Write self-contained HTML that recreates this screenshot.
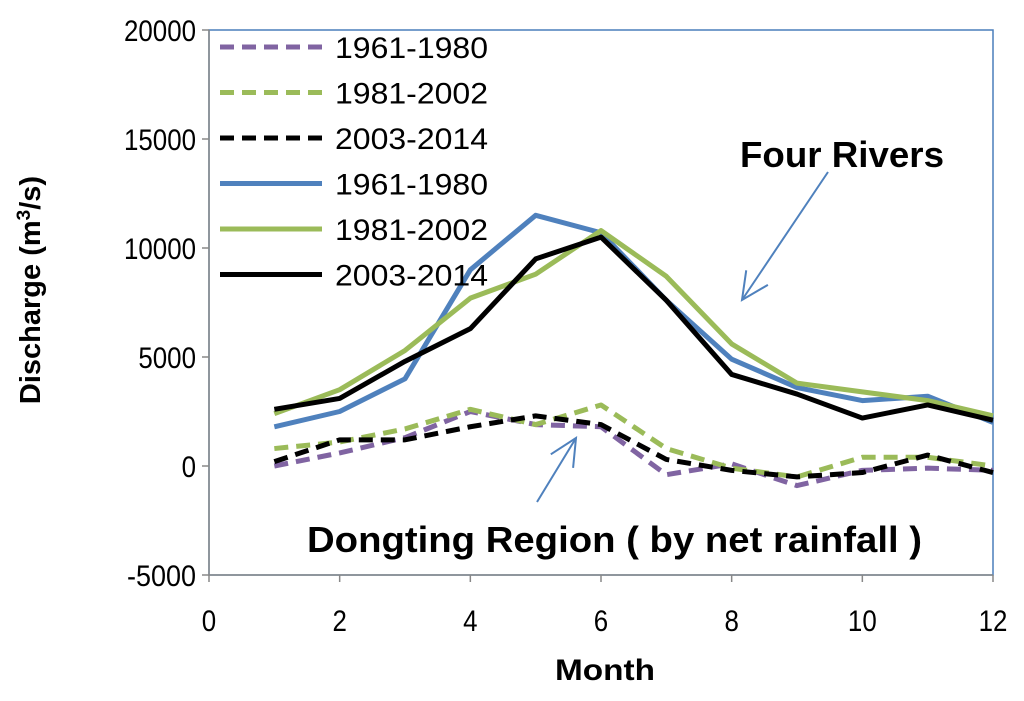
<!DOCTYPE html>
<html><head><meta charset="utf-8"><style>
body{margin:0;background:#fff;}
svg{font-family:"Liberation Sans",sans-serif;}
</style></head><body>
<svg id="c" width="1024" height="696" viewBox="0 0 1024 696"></svg>
<script>
const months=[1,2,3,4,5,6,7,8,9,10,11,12];
const xTicks=[0,2,4,6,8,10,12];
const yTicks=[-5000,0,5000,10000,15000,20000];
const dPurple=[0,600,1300,2500,1900,1800,-400,100,-900,-200,-100,-200];
const dGreen=[800,1100,1700,2600,1900,2800,800,-100,-500,400,400,0];
const dBlack=[200,1200,1200,1800,2300,1900,300,-200,-500,-300,500,-300];
const sBlue=[1800,2500,4000,9000,11500,10700,7600,4900,3600,3000,3200,2000];
const sGreen=[2400,3500,5300,7700,8800,10800,8700,5600,3800,3400,3000,2300];
const sBlack=[2600,3100,4800,6300,9500,10500,7600,4200,3300,2200,2800,2100];
const seriesNames=["1961-1980","1981-2002","2003-2014","1961-1980","1981-2002","2003-2014"];

const NS="http://www.w3.org/2000/svg";
const svg=document.getElementById('c');
const X0=209,X1=993,Y0=575,Y1=30;
const sx=v=>X0+(v-0)/12*(X1-X0);
const sy=v=>Y0-(v+5000)/25000*(Y0-Y1);
function el(t,a,p){const e=document.createElementNS(NS,t);for(const k in a)e.setAttribute(k,a[k]);(p||svg).appendChild(e);return e;}

const frame=el('rect',{x:X0,y:Y1,width:X1-X0,height:Y0-Y1,fill:'none',stroke:'#4a7ebb','stroke-width':1.5});


const ax=el('path',{d:`M${X0},${Y1}V${Y0}H${X1}`,fill:'none',stroke:'#888','stroke-width':1.5});



yTicks.forEach(v=>{
  el('line',{x1:X0-7,x2:X0,y1:sy(v),y2:sy(v),stroke:'#888','stroke-width':1.5});
  const s=String(v);
  const t=el('text',{x:196,y:sy(v)+11,'text-anchor':'end','font-size':30,fill:'#000',textLength:s.length*14.4+(v<0?-3:0),lengthAdjust:'spacingAndGlyphs'});
  t.textContent=s;
  
  
});
xTicks.forEach(v=>{
  el('line',{x1:sx(v),x2:sx(v),y1:Y0,y2:Y0+7,stroke:'#888','stroke-width':1.5});
  const s=String(v);
  const t=el('text',{x:sx(v),y:Y0+56,'text-anchor':'middle','font-size':30,fill:'#000',textLength:s.length*14.4,lengthAdjust:'spacingAndGlyphs'});
  t.textContent=s;
  
  
});

const series=[
 {d:dPurple,c:'#8064a2',dash:'14,8'},
 {d:dGreen,c:'#9bbb59',dash:'14,8'},
 {d:dBlack,c:'#000',dash:'14,8'},
 {d:sBlue,c:'#4f81bd',dash:''},
 {d:sGreen,c:'#9bbb59',dash:''},
 {d:sBlack,c:'#000',dash:''}];
series.forEach((s,i)=>{
  const p=el('polyline',{points:s.d.map((v,j)=>sx(months[j])+','+sy(v)).join(' '),fill:'none',stroke:s.c,'stroke-width':5,'stroke-dasharray':s.dash,'stroke-linejoin':'round'});
  
  
  const ly=47+45.5*i;
  const l=el('line',{x1:220,x2:322,y1:ly,y2:ly,stroke:s.c,'stroke-width':5,'stroke-dasharray':s.dash});
  
  
  const t=el('text',{x:335,y:ly+11,'font-size':30,fill:'#000',textLength:153,lengthAdjust:'spacingAndGlyphs'});
  t.textContent=seriesNames[i];
  
  
});

function arrow(x1,y1,x2,y2,name){
  const g=el('g',{stroke:'#4f81bd','stroke-width':2,fill:'none'});
  
  
  el('line',{x1,y1,x2,y2},g);
  const a=Math.atan2(y2-y1,x2-x1),L=30,w=0.45;
  el('polyline',{points:`${x2-L*Math.cos(a-w)},${y2-L*Math.sin(a-w)} ${x2},${y2} ${x2-L*Math.cos(a+w)},${y2-L*Math.sin(a+w)}`},g);
}
arrow(828,172,742,300,'four-rivers-arrow');
arrow(537,502,576,438,'dongting-arrow');

const t1=el('text',{x:740,y:167,'font-size':36,'font-weight':'bold',fill:'#000',textLength:204,lengthAdjust:'spacingAndGlyphs'});
t1.textContent='Four Rivers';


const t2=el('text',{x:307,y:552,'font-size':36,'font-weight':'bold',fill:'#000',textLength:615,lengthAdjust:'spacingAndGlyphs'});
t2.textContent='Dongting Region ( by net rainfall )';


const xt=el('text',{x:605,y:680,'text-anchor':'middle','font-size':30,'font-weight':'bold',fill:'#000',textLength:100,lengthAdjust:'spacingAndGlyphs'});
xt.textContent='Month';


const yt=el('text',{x:0,y:0,'text-anchor':'middle','font-size':29,'font-weight':'bold',fill:'#000',transform:'translate(40,290) rotate(-90)'});
yt.innerHTML='Discharge (m<tspan dy="-10" font-size="19">3</tspan><tspan dy="10">/s)</tspan>';


</script>
</body></html>
